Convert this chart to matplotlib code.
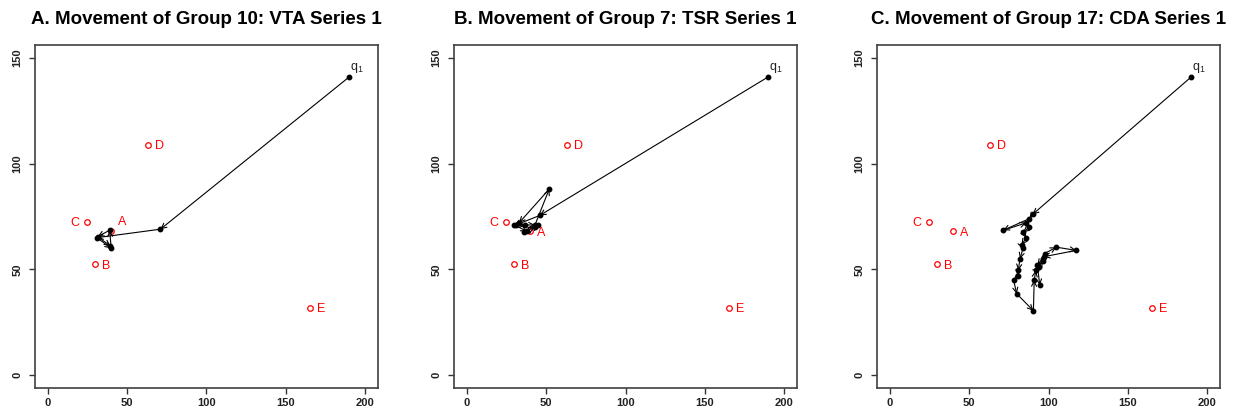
import matplotlib.pyplot as plt

plt.rcParams['font.family'] = ['Liberation Sans', 'DejaVu Sans']

# reference positions (red circles)
ref_names = ["A", "B", "C", "D", "E"]
ref_x = [40, 30, 25, 63, 165]
ref_y = [68, 52.5, 72.5, 109, 32]

# starting point q1
q1 = (190, 141)

titles = ["A. Movement of Group 10: VTA Series 1",
          "B. Movement of Group 7: TSR Series 1",
          "C. Movement of Group 17: CDA Series 1"]

# movement paths
path_a_x = [190, 71, 31, 40, 39, 31.5, 39.5]
path_a_y = [141, 69, 65, 60, 68.5, 65.5, 61]

path_b_x = [190, 46, 31, 37, 43, 52, 33, 30, 38, 36, 43, 45]
path_b_y = [141, 75.5, 71, 71, 71, 88, 72, 71, 68, 67.5, 70, 71]

path_c_x = [190, 90, 88, 71.5, 86, 88, 84, 86, 83, 84, 82, 81, 81, 78, 80, 90.5,
            91, 92, 94, 96.5, 97.5, 105, 117.5, 97, 93, 94.5]
path_c_y = [141, 76, 74, 68.5, 72, 70, 67.5, 65, 61.5, 60, 55, 49.5, 47, 45, 38.5, 30.5,
            45, 49.5, 51, 54, 57.5, 60.5, 59, 56, 52, 42.5]

paths = [(path_a_x, path_a_y), (path_b_x, path_b_y), (path_c_x, path_c_y)]

W, H = 1241, 417
fig = plt.figure(figsize=(W / 100, H / 100), dpi=100)
lefts = [35, 454, 877]

for i, left in enumerate(lefts):
    ax = fig.add_axes([left / W, 29 / H, 343 / W, 343 / H])
    px, py = paths[i]

    # arrows between consecutive positions
    for j in range(len(px) - 1):
        ax.annotate('', xy=(px[j + 1], py[j + 1]), xytext=(px[j], py[j]),
                    arrowprops=dict(arrowstyle='->', lw=0.8, color='black',
                                    shrinkA=0, shrinkB=0, mutation_scale=9))
    ax.plot(px, py, 'o', ms=3.2, color='black', zorder=3)

    # reference points
    ax.plot(ref_x, ref_y, 'o', ms=4, mfc='none', mec='red', mew=0.9, zorder=2)
    for name, x, y in zip(ref_names, ref_x, ref_y):
        dy = -1
        if name == "A" and i == 0:
            dy = 7
        if name == "C":
            ax.annotate(name, (x, y), xytext=(-6, dy), textcoords='offset points',
                        ha='right', va='center', color='red', fontsize=9)
        else:
            ax.annotate(name, (x, y), xytext=(5, dy), textcoords='offset points',
                        ha='left', va='center', color='red', fontsize=9)

    ax.annotate(r'$\mathregular{q_1}$', q1, xytext=(5, 6), textcoords='offset points',
                ha='center', va='center', color='#222222', fontsize=9)

    ax.set_xlim(-8, 208)
    ax.set_ylim(-6, 156)
    ax.set_xticks([0, 50, 100, 150, 200])
    ax.set_yticks([0, 50, 100, 150])
    ax.tick_params(length=4, width=1, color='#333333', labelsize=8, labelcolor='#222222')
    ax.tick_params(axis='y', pad=5)
    for lab in ax.get_xticklabels() + ax.get_yticklabels():
        lab.set_fontweight('bold')
    for lab in ax.get_yticklabels():
        lab.set_rotation(90)
        lab.set_va('center')
    for s in ax.spines.values():
        s.set_color('#404040')
        s.set_linewidth(1.2)

    fig.text((left + 171.5) / W, 1 - 19 / H, titles[i], ha='center', va='center',
             fontsize=13.5, fontweight='bold')

fig.savefig('out.png', dpi=100)
